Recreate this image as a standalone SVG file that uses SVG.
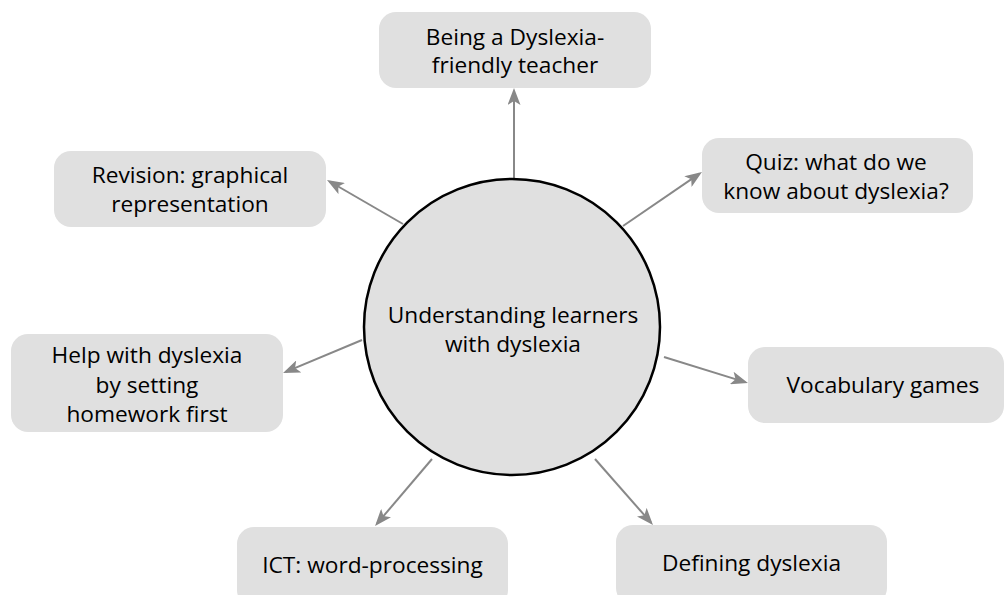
<svg xmlns="http://www.w3.org/2000/svg" width="1005" height="595" viewBox="0 0 1005 595">
<style>
.box{fill:#e0e0e0;stroke:none}
.t{font-family:"Open Sans","Liberation Sans",sans-serif;font-size:22.7px;fill:#000;text-anchor:middle}
.c{stroke:#888;stroke-width:2;fill:none;marker-end:url(#ah)}
</style>
<defs>
<marker id="ah" viewBox="0 0 17 13" refX="14" refY="6.5" markerWidth="17" markerHeight="13" markerUnits="userSpaceOnUse" orient="auto">
<path d="M0,0 L17,6.5 L0,13 L4,6.5 z" fill="#888"/>
</marker>
</defs>
<rect width="1005" height="595" fill="#fff"/>
<g id="connectors">
<line class="c" x1="514" y1="179" x2="514" y2="91"/>
<line class="c" x1="623" y1="226" x2="699.5" y2="173.7"/>
<line class="c" x1="403" y1="224" x2="329.6" y2="181.5"/>
<line class="c" x1="362" y1="340" x2="285.8" y2="371.8"/>
<line class="c" x1="664" y1="357" x2="745.1" y2="382.1"/>
<line class="c" x1="595" y1="459" x2="651" y2="522.7"/>
<line class="c" x1="432" y1="459" x2="377" y2="523.7"/>
</g>
<g id="center">
<circle cx="512" cy="327" r="148" fill="#e0e0e0" stroke="#000" stroke-width="2.5"/>
<text class="t" x="513" y="323">Understanding learners</text>
<text class="t" x="513" y="352">with dyslexia</text>
</g>
<g id="n-teacher">
<rect class="box" x="379" y="12" width="272" height="76" rx="17"/>
<text class="t" x="515" y="45">Being a Dyslexia-</text>
<text class="t" x="515" y="73">friendly teacher</text>
</g>
<g id="n-quiz">
<rect class="box" x="702" y="138" width="271" height="75" rx="17"/>
<text class="t" x="836" y="170">Quiz: what do we</text>
<text class="t" x="836" y="199">know about dyslexia?</text>
</g>
<g id="n-revision">
<rect class="box" x="54" y="151" width="272" height="76" rx="17"/>
<text class="t" x="190" y="183">Revision: graphical</text>
<text class="t" x="190" y="212">representation</text>
</g>
<g id="n-help">
<rect class="box" x="11" y="334" width="272" height="98" rx="17"/>
<text class="t" x="147" y="363">Help with dyslexia</text>
<text class="t" x="147" y="393">by setting</text>
<text class="t" x="147" y="422">homework first</text>
</g>
<g id="n-vocab">
<rect class="box" x="748" y="347" width="256" height="76" rx="17"/>
<text class="t" x="883" y="393">Vocabulary games</text>
</g>
<g id="n-defining">
<rect class="box" x="616" y="525" width="271" height="80" rx="17"/>
<text class="t" x="751.5" y="571">Defining dyslexia</text>
</g>
<g id="n-ict">
<rect class="box" x="237" y="527" width="271" height="80" rx="17"/>
<text class="t" x="372.5" y="573">ICT: word-processing</text>
</g>
</svg>
